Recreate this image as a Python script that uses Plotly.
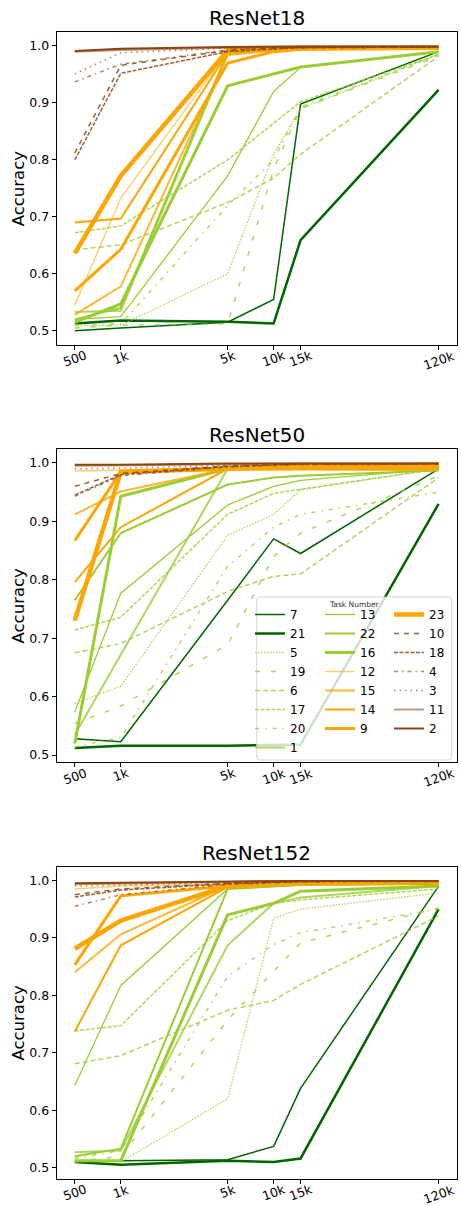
import numpy as np
import plotly.graph_objects as go

# ---------------- data ----------------
X_VALUES = [500, 1000, 5000, 10000, 15000, 120000]
X_LABELS = ["500", "1k", "5k", "10k", "15k", "120k"]
Y_TICKS = [0.5, 0.6, 0.7, 0.8, 0.9, 1.0]
MODELS = ["ResNet18", "ResNet50", "ResNet152"]
TASKS = [7, 21, 5, 19, 6, 17, 20, 1, 13, 22, 16, 12, 15, 14, 9, 23, 10, 18, 4, 3, 11, 2]

RESNET18 = {
    7: [0.500, 0.505, 0.515, 0.555, 0.898, 0.990],
    21: [0.513, 0.518, 0.516, 0.513, 0.659, 0.923],
    5: [0.508, 0.510, 0.600, 0.810, 0.890, 0.985],
    19: [0.505, 0.510, 0.512, 0.784, 0.890, 0.982],
    6: [0.642, 0.651, 0.725, 0.768, 0.810, 0.982],
    17: [0.672, 0.684, 0.800, 0.865, 0.902, 0.985],
    20: [0.510, 0.512, 0.720, 0.800, 0.893, 0.985],
    1: [0.533, 0.535, 0.985, 0.993, 0.995, 0.997],
    13: [0.520, 0.525, 0.772, 0.920, 0.962, 0.990],
    22: [0.520, 0.540, 0.990, 0.993, 0.995, 0.997],
    16: [0.515, 0.547, 0.930, 0.950, 0.963, 0.990],
    12: [0.545, 0.733, 0.990, 0.993, 0.995, 0.997],
    15: [0.528, 0.578, 0.984, 0.992, 0.995, 0.997],
    14: [0.690, 0.697, 0.988, 0.993, 0.995, 0.997],
    9: [0.570, 0.643, 0.970, 0.990, 0.994, 0.996],
    23: [0.636, 0.772, 0.992, 0.995, 0.996, 0.997],
    10: [0.812, 0.966, 0.992, 0.996, 0.997, 0.998],
    18: [0.800, 0.952, 0.990, 0.995, 0.997, 0.998],
    4: [0.937, 0.968, 0.993, 0.997, 0.998, 0.999],
    3: [0.951, 0.988, 0.996, 0.998, 0.999, 0.999],
    11: [0.990, 0.993, 0.997, 0.998, 0.999, 0.999],
    2: [0.991, 0.995, 0.998, 0.999, 0.999, 0.999],
}

RESNET50 = {
    7: [0.528, 0.523, 0.765, 0.870, 0.845, 0.990],
    21: [0.512, 0.516, 0.516, 0.518, 0.518, 0.930],
    5: [0.588, 0.618, 0.876, 0.912, 0.954, 0.990],
    19: [0.554, 0.584, 0.689, 0.840, 0.880, 0.978],
    6: [0.675, 0.691, 0.780, 0.806, 0.810, 0.975],
    17: [0.714, 0.736, 0.912, 0.948, 0.955, 0.990],
    20: [0.514, 0.530, 0.823, 0.890, 0.912, 0.950],
    1: [0.535, 0.672, 0.990, 0.993, 0.994, 0.995],
    13: [0.574, 0.777, 0.928, 0.960, 0.970, 0.990],
    22: [0.765, 0.880, 0.963, 0.975, 0.978, 0.987],
    16: [0.520, 0.943, 0.990, 0.993, 0.994, 0.995],
    12: [0.986, 0.988, 0.991, 0.993, 0.994, 0.995],
    15: [0.912, 0.951, 0.990, 0.993, 0.994, 0.995],
    14: [0.796, 0.890, 0.990, 0.992, 0.993, 0.994],
    9: [0.867, 0.985, 0.991, 0.993, 0.994, 0.995],
    23: [0.730, 0.985, 0.990, 0.991, 0.991, 0.990],
    10: [0.960, 0.982, 0.995, 0.997, 0.998, 0.999],
    18: [0.945, 0.980, 0.994, 0.997, 0.998, 0.999],
    4: [0.943, 0.978, 0.993, 0.996, 0.997, 0.998],
    3: [0.990, 0.991, 0.996, 0.998, 0.998, 0.999],
    11: [0.995, 0.996, 0.998, 0.999, 0.999, 0.999],
    2: [0.997, 0.997, 0.999, 0.999, 0.999, 0.999],
}

RESNET152 = {
    7: [0.510, 0.512, 0.514, 0.537, 0.638, 0.990],
    21: [0.510, 0.505, 0.512, 0.510, 0.516, 0.950],
    5: [0.513, 0.510, 0.620, 0.934, 0.950, 0.978],
    19: [0.510, 0.520, 0.757, 0.842, 0.891, 0.952],
    6: [0.681, 0.695, 0.774, 0.791, 0.819, 0.938],
    17: [0.738, 0.747, 0.930, 0.960, 0.966, 0.985],
    20: [0.516, 0.530, 0.833, 0.888, 0.909, 0.950],
    1: [0.527, 0.530, 0.887, 0.960, 0.970, 0.990],
    13: [0.643, 0.817, 0.985, 0.990, 0.992, 0.993],
    22: [0.520, 0.533, 0.985, 0.990, 0.992, 0.994],
    16: [0.512, 0.512, 0.940, 0.960, 0.981, 0.990],
    12: [0.985, 0.990, 0.993, 0.995, 0.996, 0.997],
    15: [0.840, 0.906, 0.990, 0.993, 0.995, 0.996],
    14: [0.737, 0.887, 0.988, 0.992, 0.994, 0.995],
    9: [0.853, 0.973, 0.990, 0.993, 0.995, 0.996],
    23: [0.881, 0.930, 0.990, 0.993, 0.995, 0.996],
    10: [0.975, 0.985, 0.995, 0.997, 0.998, 0.999],
    18: [0.971, 0.983, 0.994, 0.997, 0.998, 0.999],
    4: [0.955, 0.975, 0.993, 0.996, 0.997, 0.998],
    3: [0.990, 0.992, 0.996, 0.998, 0.998, 0.999],
    11: [0.993, 0.994, 0.997, 0.998, 0.999, 0.999],
    2: [0.995, 0.996, 0.998, 0.999, 0.999, 0.999],
}

DATA = [RESNET18, RESNET50, RESNET152]

# ---------------- styles ----------------
DG = "#006400"
YG = "rgb(154,205,50)"
YGL = "rgba(154,205,50,0.8)"
OR = "rgb(255,165,0)"
SB = "rgb(139,69,19)"
STYLE = {
    7: (DG, 1.5, "solid"),
    21: (DG, 2.5, "solid"),
    5: (YGL, 1.3, "1.5px,1.5px"),
    19: (YGL, 1.5, "5px,11px"),
    6: (YGL, 1.5, "5px,3px"),
    17: (YGL, 1.5, "4px,1.5px"),
    20: (YGL, 1.5, "4px,6px,1.5px,6px"),
    1: (YGL, 2.0, "solid"),
    13: (YG, 1.3, "solid"),
    22: (YG, 2.0, "solid"),
    16: (YG, 3.0, "solid"),
    12: ("rgba(255,165,0,0.55)", 1.5, "solid"),
    15: ("rgba(255,165,0,0.8)", 2.0, "solid"),
    14: (OR, 2.0, "solid"),
    9: (OR, 3.0, "solid"),
    23: (OR, 4.5, "solid"),
    10: ("rgba(139,69,19,0.85)", 1.5, "5px,5px"),
    18: ("rgba(139,69,19,0.85)", 1.5, "4px,1.5px"),
    4: ("rgba(139,69,19,0.65)", 1.5, "4px,4px,1.5px,4px"),
    3: ("rgba(139,69,19,0.65)", 1.5, "1.5px,4px"),
    11: ("rgba(139,69,19,0.55)", 2.0, "solid"),
    2: (SB, 2.0, "solid"),
}
LEGEND_OF = {}
for i, t in enumerate(TASKS):
    LEGEND_OF[t] = "legend" if i < 8 else ("legend2" if i < 15 else "legend3")

W, H = 461, 1206
FONT = "DejaVu Sans"


def px_x(p):
    return p / W


def px_y(p):
    return 1 - p / H


X_DOM = [px_x(56.6), px_x(456.8)]
Y_DOMS = [
    [px_y(345.0), px_y(32.3)],
    [px_y(762.3), px_y(449.3)],
    [px_y(1179.0), px_y(866.7)],
]

fig = go.Figure()
layout = {}
annotations = []

lx = np.log10(X_VALUES)
pad = 0.05 * (lx.max() - lx.min())
x_range = [lx.min() - pad, lx.max() + pad]

for k, (name, data) in enumerate(zip(MODELS, DATA)):
    sfx = "" if k == 0 else str(k + 1)
    xa, ya = "x" + sfx, "y" + sfx
    allv = np.array([v for t in TASKS for v in data[t]])
    ypad = 0.05 * (allv.max() - allv.min())
    y_range = [allv.min() - ypad, allv.max() + ypad]
    for t in TASKS:
        color, width, dash = STYLE[t]
        fig.add_trace(go.Scatter(
            x=X_VALUES, y=data[t], mode="lines", name=str(t),
            line=dict(color=color, width=width, dash=dash),
            xaxis=xa, yaxis=ya, showlegend=(k == 0),
            legend=LEGEND_OF[t], legendgroup=str(t),
        ))
    layout["xaxis" + sfx] = dict(
        type="log", range=x_range, domain=X_DOM, anchor=ya,
        tickvals=X_VALUES, showticklabels=False, ticks="outside",
        ticklen=4, tickwidth=1, tickcolor="black",
        showline=True, mirror=True, linecolor="black", linewidth=1,
        showgrid=False, zeroline=False,
    )
    layout["yaxis" + sfx] = dict(
        range=y_range, domain=Y_DOMS[k], anchor=xa,
        tickvals=Y_TICKS, tickformat=".1f", ticks="outside",
        ticklen=4, tickwidth=1, tickcolor="black",
        tickfont=dict(family=FONT, size=12.5, color="black"),
        showline=True, mirror=True, linecolor="black", linewidth=1,
        showgrid=False, zeroline=False,
        title=dict(text="Accuracy", font=dict(family=FONT, size=16.5, color="black"), standoff=0),
    )
    # title
    annotations.append(dict(
        text=name, xref="paper", yref="paper",
        x=(X_DOM[0] + X_DOM[1]) / 2, y=Y_DOMS[k][1],
        xanchor="center", yanchor="bottom", yshift=0, showarrow=False,
        font=dict(family=FONT, size=20, color="black"),
    ))
    # rotated x tick labels
    for v, lab in zip(X_VALUES, X_LABELS):
        annotations.append(dict(
            text=lab, xref=xa, yref="paper", x=np.log10(v), y=Y_DOMS[k][0],
            xanchor="center", yanchor="top", yshift=0, textangle=-20,
            showarrow=False, font=dict(family=FONT, size=12.5, color="black"),
        ))

# legend frame (rounded) drawn on subplot 2
bx0, bx1, by0, by1, r = 256.7, 451.7, 597.0, 760.0, 3.0
path = (
    f"M {px_x(bx0 + r)},{px_y(by0)} L {px_x(bx1 - r)},{px_y(by0)} "
    f"Q {px_x(bx1)},{px_y(by0)} {px_x(bx1)},{px_y(by0 + r)} "
    f"L {px_x(bx1)},{px_y(by1 - r)} Q {px_x(bx1)},{px_y(by1)} {px_x(bx1 - r)},{px_y(by1)} "
    f"L {px_x(bx0 + r)},{px_y(by1)} Q {px_x(bx0)},{px_y(by1)} {px_x(bx0)},{px_y(by1 - r)} "
    f"L {px_x(bx0)},{px_y(by0 + r)} Q {px_x(bx0)},{px_y(by0)} {px_x(bx0 + r)},{px_y(by0)} Z"
)
shapes = [dict(type="path", path=path, xref="paper", yref="paper", layer="above",
               fillcolor="rgba(255,255,255,0.8)", line=dict(color="rgba(204,204,204,0.8)", width=1))]
annotations.append(dict(
    text="Task Number", xref="paper", yref="paper", x=px_x(354), y=px_y(604),
    xanchor="center", yanchor="middle", showarrow=False,
    font=dict(family=FONT, size=7.5, color="#333333"),
))

leg_common = dict(yanchor="top", xanchor="left", bgcolor="rgba(0,0,0,0)", borderwidth=0,
                  font=dict(family=FONT, size=12, color="black"), itemwidth=30,
                  tracegroupgap=0, traceorder="normal", y=px_y(600))
layout["legend"] = dict(x=px_x(250), **leg_common)
layout["legend2"] = dict(x=px_x(320), **leg_common)
layout["legend3"] = dict(x=px_x(389), **leg_common)

fig.update_layout(
    width=W, height=H, margin=dict(l=0, r=0, t=0, b=0),
    paper_bgcolor="white", plot_bgcolor="white",
    font=dict(family=FONT, color="black"),
    annotations=annotations, shapes=shapes, **layout,
)
fig.write_html("out.html")
